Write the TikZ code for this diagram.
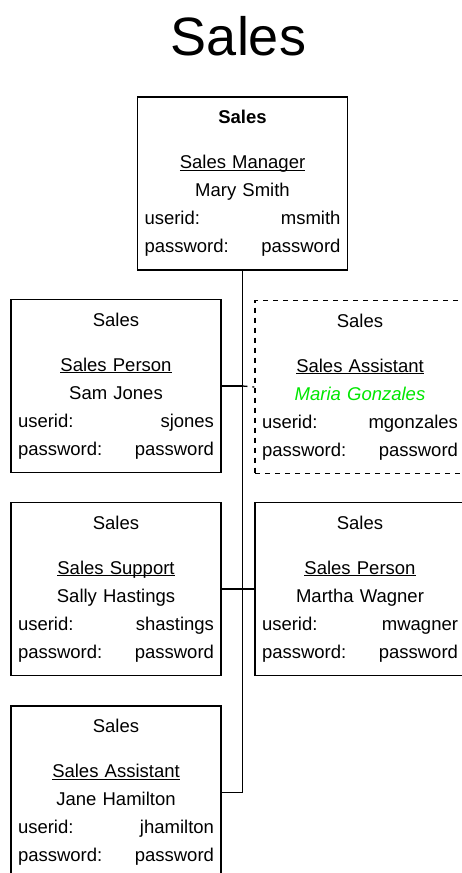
\documentclass[tikz,border=0pt]{standalone}
\usepackage{fontspec}
\setmainfont{Liberation Sans}
\definecolor{newhire}{RGB}{0,230,0}
\tikzset{
  staff/.style={draw, line width=1.3pt, minimum width=210pt, minimum height=173pt,
    text width=196pt, inner xsep=7pt, align=center, font=\fontsize{18.5}{28}\selectfont},
  vacant/.style={staff, dash pattern=on 5pt off 5pt},
  link/.style={line width=1.3pt}
}
\newcommand{\role}[1]{\underline{\smash{#1}}}

\begin{document}
\begin{tikzpicture}[x=1pt,y=-1pt]
\useasboundingbox (0,0) rectangle (462,873);

\node (title) at (238.5,55) [anchor=base, font=\fontsize{54}{60}\selectfont]{Sales};

\node (mgr) at (242.5,183.5) [staff]{\textbf{Sales}\\[17pt] \role{Sales Manager}\\ Mary Smith\\ userid:\hfill msmith\\ password:\hfill password};

\node (sam) at (116,386) [staff]{Sales\\[17pt] \role{Sales Person}\\ Sam Jones\\ userid:\hfill sjones\\ password:\hfill password};
\node (maria) at (360,387) [vacant]{Sales\\[17pt] \role{Sales Assistant}\\ {\color{newhire}\itshape Maria Gonzales}\\ userid:\hfill mgonzales\\ password:\hfill password};

\node (sally) at (116,589) [staff]{Sales\\[17pt] \role{Sales Support}\\ Sally Hastings\\ userid:\hfill shastings\\ password:\hfill password};
\node (martha) at (360,589) [staff]{Sales\\[17pt] \role{Sales Person}\\ Martha Wagner\\ userid:\hfill mwagner\\ password:\hfill password};

\node (jane) at (116,792.5) [staff]{Sales\\[17pt] \role{Sales Assistant}\\ Jane Hamilton\\ userid:\hfill jhamilton\\ password:\hfill password};

% reporting lines
\draw [link] (mgr.south) |- (jane.east);
\draw [link] (sam.east) -- (sam.east -| mgr.south);
\draw [link, dash pattern=on 5pt off 5pt] (sam.east -| mgr.south) -- (maria.west);
\draw [link] (sally.east) -- (martha.west);

\end{tikzpicture}
\end{document}
